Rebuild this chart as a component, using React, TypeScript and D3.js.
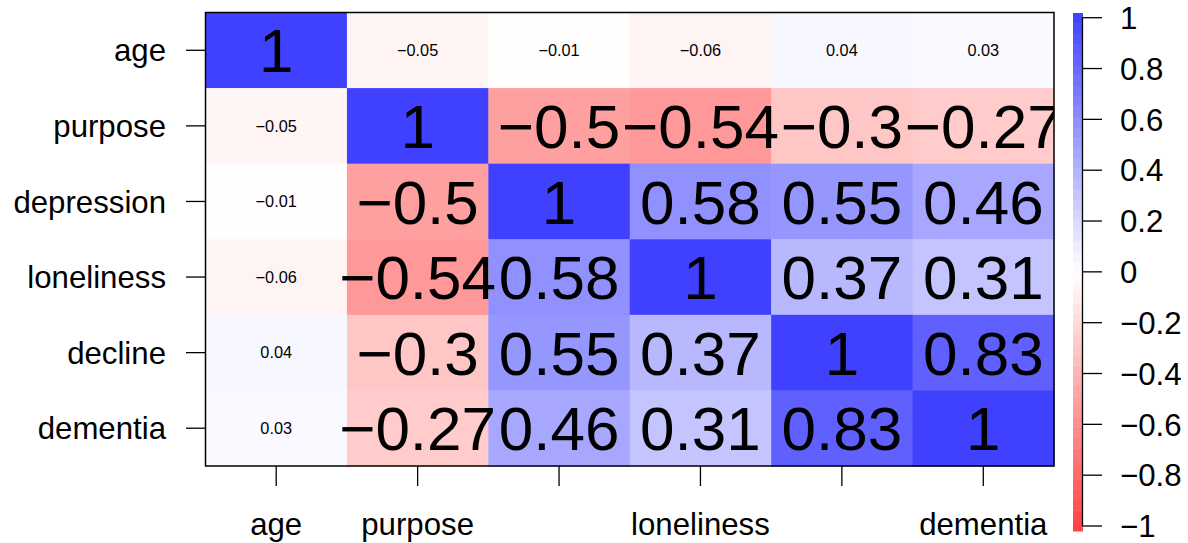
import React from "react";
import * as d3 from "d3";

const variables = ["age", "purpose", "depression", "loneliness", "decline", "dementia"];
const xLabelsShown = ["age", "purpose", "loneliness", "dementia"];
const rowAge = [1, -0.05, -0.01, -0.06, 0.04, 0.03];
const rowPurpose = [-0.05, 1, -0.5, -0.54, -0.3, -0.27];
const rowDepression = [-0.01, -0.5, 1, 0.58, 0.55, 0.46];
const rowLoneliness = [-0.06, -0.54, 0.58, 1, 0.37, 0.31];
const rowDecline = [0.04, -0.3, 0.55, 0.37, 1, 0.83];
const rowDementia = [0.03, -0.27, 0.46, 0.31, 0.83, 1];
const matrix = [rowAge, rowPurpose, rowDepression, rowLoneliness, rowDecline, rowDementia];
const legendTicks = [1, 0.8, 0.6, 0.4, 0.2, 0, -0.2, -0.4, -0.6, -0.8, -1];

const W = 1188;
const H = 543;
const plot = { left: 205.5, right: 1054, top: 12.5, bottom: 466 };
const bar = { x: 1073, w: 10, top: 13, bottom: 531, tickTop: 17.7, tickBottom: 526 };
const FONT = "'Liberation Sans', Arial, Helvetica, sans-serif";
const LABEL_FS = 31.2;

const color = d3
  .scaleLinear<string>()
  .domain([-1, 0, 1])
  .range(["#FF4040", "#FFFFFF", "#4040FF"])
  .interpolate(d3.interpolateRgb);

const fmt = (v: number) => {
  const s = String(v);
  return v < 0 ? "\u2212" + s.slice(1) : s;
};

export default function App() {
  const x = d3.scaleBand<string>().domain(variables).range([plot.left, plot.right]);
  const y = d3.scaleBand<string>().domain(variables).range([plot.top, plot.bottom]);
  const ly = d3.scaleLinear().domain([-1, 1]).range([bar.tickBottom, bar.tickTop]);

  const nBins = 50;
  const bins = d3.range(nBins).map((i) => {
    const v0 = -1 + (2 * i) / nBins;
    const v1 = -1 + (2 * (i + 1)) / nBins;
    return { v0, v1, mid: (v0 + v1) / 2 };
  });
  const barScale = d3.scaleLinear().domain([-1, 1]).range([bar.bottom, bar.top]);

  return (
    <svg width={W} height={H} style={{ position: "absolute", left: 0, top: 0, background: "#fff" }} fontFamily={FONT}>
      <defs>
        <clipPath id="plotclip">
          <rect x={plot.left} y={plot.top} width={plot.right - plot.left} height={plot.bottom - plot.top} />
        </clipPath>
      </defs>
      {matrix.map((row, i) =>
        row.map((v, j) => (
          <rect
            key={`c${i}-${j}`}
            x={x(variables[j])!}
            y={y(variables[i])!}
            width={x.bandwidth() + 0.5}
            height={y.bandwidth() + 0.5}
            fill={color(v)}
          />
        ))
      )}
      <g clipPath="url(#plotclip)">
        {matrix.map((row, i) =>
          row.map((v, j) => {
            const big = Math.abs(v) >= 0.1;
            const fs = big ? 62 : 16.3;
            const cx = x(variables[j])! + x.bandwidth() / 2;
            const cy = y(variables[i])! + y.bandwidth() / 2;
            return (
              <text key={`t${i}-${j}`} x={cx} y={cy + 0.358 * fs} textAnchor="middle" fontSize={fs} fill="#000">
                {fmt(v)}
              </text>
            );
          })
        )}
      </g>
      <rect
        x={plot.left}
        y={plot.top}
        width={plot.right - plot.left}
        height={plot.bottom - plot.top}
        fill="none"
        stroke="#000"
        strokeWidth={1.5}
      />
      {variables.map((v) => {
        const cy = y(v)! + y.bandwidth() / 2;
        return (
          <g key={`yl-${v}`}>
            <line x1={186} x2={plot.left} y1={cy} y2={cy} stroke="#000" strokeWidth={1.3} />
            <text x={166} y={cy + 11.2} textAnchor="end" fontSize={LABEL_FS}>
              {v}
            </text>
          </g>
        );
      })}
      {variables.map((v) => {
        const cx = x(v)! + x.bandwidth() / 2;
        return (
          <g key={`xl-${v}`}>
            <line x1={cx} x2={cx} y1={plot.bottom} y2={486} stroke="#000" strokeWidth={1.3} />
            {xLabelsShown.includes(v) && (
              <text x={cx} y={535} textAnchor="middle" fontSize={LABEL_FS}>
                {v}
              </text>
            )}
          </g>
        );
      })}
      {bins.map((b, i) => (
        <rect
          key={`b${i}`}
          x={bar.x}
          y={barScale(b.v1)}
          width={bar.w}
          height={barScale(b.v0) - barScale(b.v1) + 0.5}
          fill={color(b.mid)}
        />
      ))}
      <line x1={1082.5} x2={1082.5} y1={ly(1)} y2={ly(-1)} stroke="#000" strokeWidth={1.3} />
      {legendTicks.map((t) => (
        <g key={`lt${t}`}>
          <line x1={1082.5} x2={1102} y1={ly(t)} y2={ly(t)} stroke="#000" strokeWidth={1.3} />
          <text x={1120} y={ly(t) + 11.2} fontSize={LABEL_FS}>
            {fmt(t)}
          </text>
        </g>
      ))}
    </svg>
  );
}
